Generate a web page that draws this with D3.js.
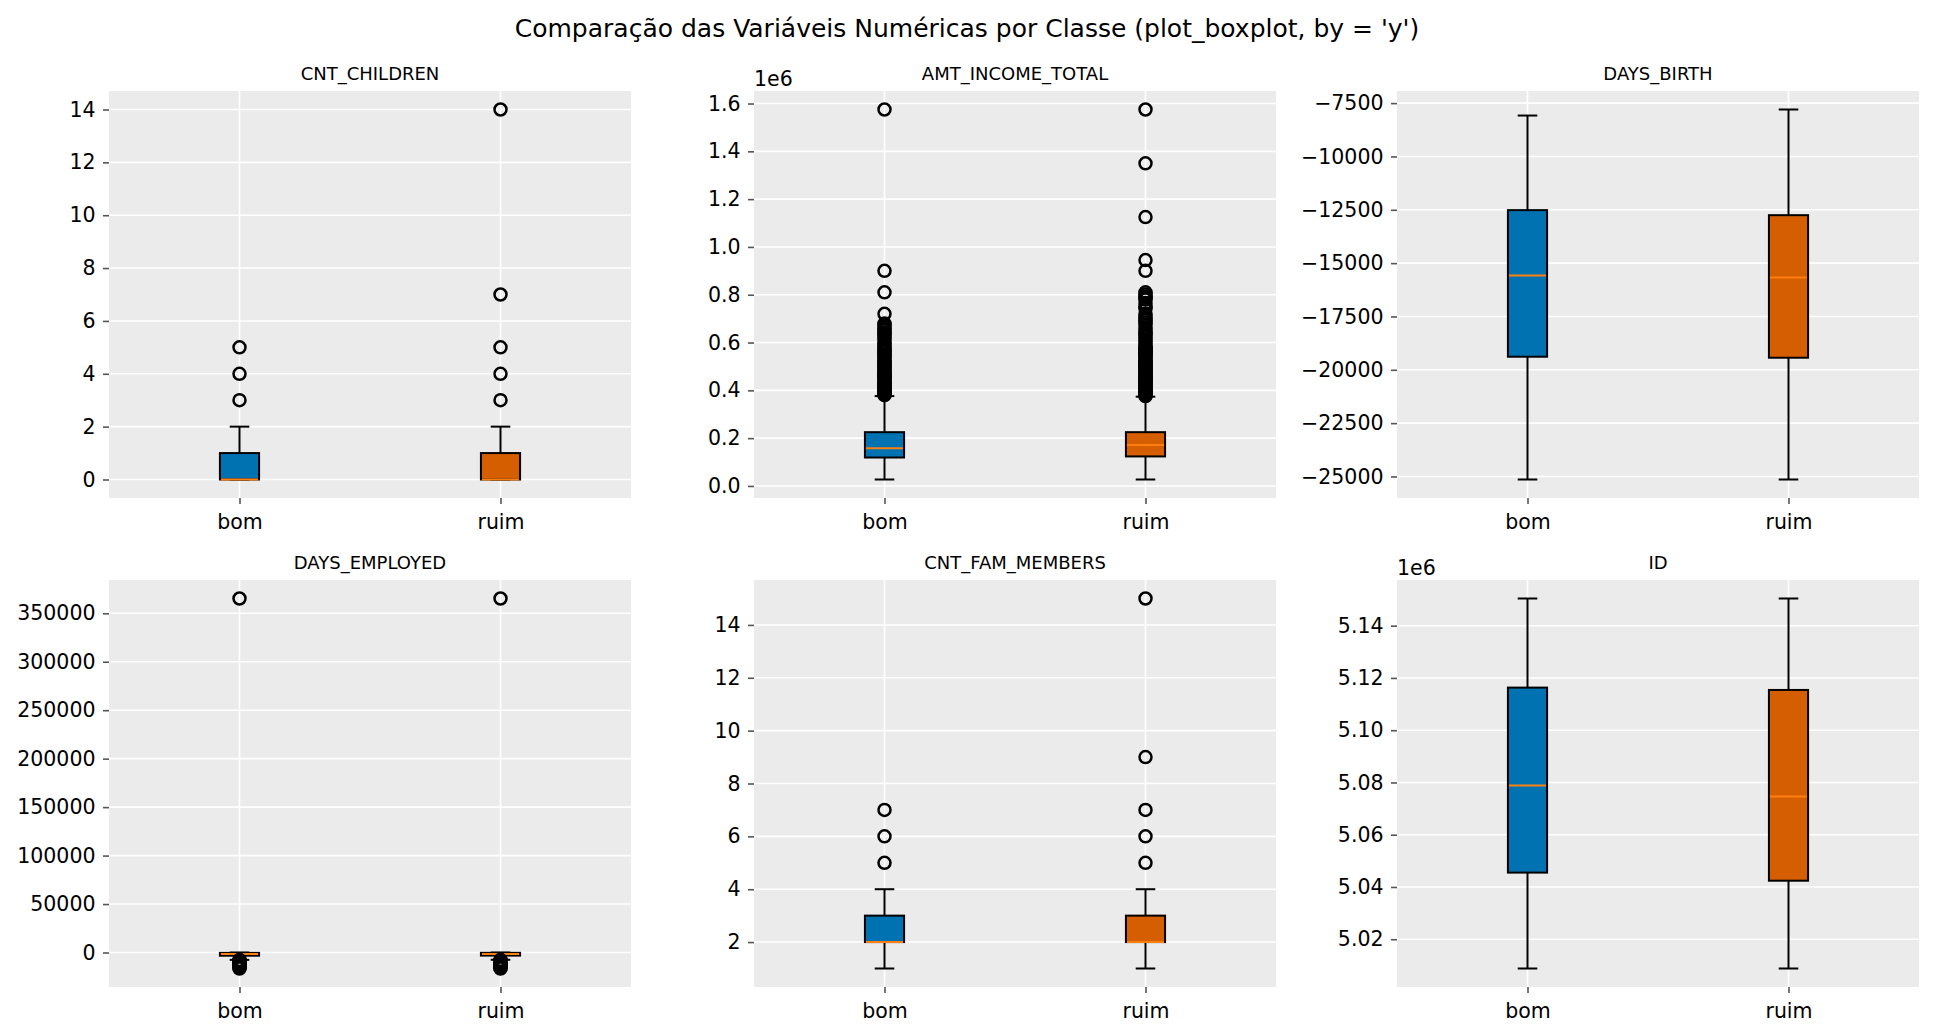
<!DOCTYPE html>
<html>
<head>
<meta charset="utf-8">
<script src="https://cdn.jsdelivr.net/npm/d3@7"></script>
<style>
  body { margin: 0; background: #fff; }
  svg { display: block; font-family: "DejaVu Sans", sans-serif; }
</style>
</head>
<body>
<svg id="chart" width="1935" height="1036"></svg>
<script>
// classes on the x axis
var classes = ["bom", "ruim"];
var variables = ["CNT_CHILDREN", "AMT_INCOME_TOTAL", "DAYS_BIRTH",
                 "DAYS_EMPLOYED", "CNT_FAM_MEMBERS", "ID"];

// box stats per class: [whisker low, q1, median, q3, whisker high]
var cntChildrenStats = [[0, 0, 0, 1, 2], [0, 0, 0, 1, 2]];
var cntChildrenFliers = [[3, 4, 5], [3, 4, 5, 7, 14]];
var cntChildrenTicks = [0, 2, 4, 6, 8, 10, 12, 14];

var amtIncomeStats = [[27000, 119000, 157500, 225000, 376000],
                      [27000, 123500, 171000, 225000, 373500]];
var amtIncomeFliers = [
  [380000, 382500, 387000, 391500, 396000, 400500, 405000, 409500, 414000, 418500,
   423000, 427500, 432000, 436500, 441000, 450000, 454500, 459000, 463500, 468000,
   472500, 477000, 481500, 486000, 495000, 499500, 504000, 513000, 517500, 522000,
   531000, 540000, 544500, 549000, 558000, 562500, 567000, 576000, 585000, 594000,
   598500, 612000, 621000, 630000, 639000, 643500, 652500, 657000, 666000, 675000,
   679500, 720000, 810000, 900000, 1575000],
  [376000, 378000, 382500, 387000, 391500, 396000, 400500, 405000, 409500, 414000,
   418500, 423000, 427500, 432000, 436500, 441000, 445500, 450000, 454500, 459000,
   463500, 468000, 472500, 477000, 481500, 486000, 490500, 495000, 499500, 504000,
   508500, 513000, 517500, 522000, 526500, 531000, 540000, 544500, 549000, 553500,
   558000, 562500, 567000, 571500, 576000, 580500, 585000, 594000, 603000, 612000,
   621000, 630000, 639000, 643500, 652500, 661500, 675000, 684000, 693000, 702000,
   711000, 720000, 742500, 750000, 765000, 780000, 787500, 792000, 801000, 810000,
   900000, 945000, 1125000, 1350000, 1575000]
];
var amtIncomeTicks = [0, 200000, 400000, 600000, 800000, 1000000, 1200000, 1400000, 1600000];

var daysBirthStats = [[-25142, -19387, -15582, -12516, -8082],
                      [-25142, -19434, -15676, -12752, -7799]];
var daysBirthFliers = [[], []];
var daysBirthTicks = [-7500, -10000, -12500, -15000, -17500, -20000, -22500, -25000];

var daysEmployedStats = [[-7600, -3300, -1600, -400, -17],
                         [-7500, -3200, -1500, -350, -12]];
var daysEmployedFliers = [
  [-7700, -8100, -8500, -8900, -9300, -9800, -10300, -10900, -11500, -12100,
   -12800, -13500, -14300, -15000, -15800, -16500, 365243],
  [-7600, -8000, -8600, -9100, -9700, -10400, -11000, -11800, -12600, -13400,
   -14200, -15100, -15900, -16500, 365243]
];
var daysEmployedTicks = [0, 50000, 100000, 150000, 200000, 250000, 300000, 350000];

var cntFamStats = [[1, 2, 2, 3, 4], [1, 2, 2, 3, 4]];
var cntFamFliers = [[5, 6, 7], [5, 6, 7, 9, 15]];
var cntFamTicks = [2, 4, 6, 8, 10, 12, 14];

var idStats = [[5008800, 5045500, 5078800, 5116300, 5150400],
               [5008800, 5042400, 5074600, 5115400, 5150400]];
var idFliers = [[], []];
var idTicks = [5020000, 5040000, 5060000, 5080000, 5100000, 5120000, 5140000];

var panelStats = [cntChildrenStats, amtIncomeStats, daysBirthStats,
                  daysEmployedStats, cntFamStats, idStats];
var panelFliers = [cntChildrenFliers, amtIncomeFliers, daysBirthFliers,
                   daysEmployedFliers, cntFamFliers, idFliers];
var panelTicks = [cntChildrenTicks, amtIncomeTicks, daysBirthTicks,
                  daysEmployedTicks, cntFamTicks, idTicks];
var panelOffset = [0, 6, 0, 0, 0, 6];   // exponent of the "1e6" axis offset
var panelDecimals = [0, 1, 0, 0, 0, 2];

var boxColors = ["#0072B2", "#D55E00"];
var medianColor = "#ff7f0e";

var svg = d3.select("#chart");
var colX = [109, 754, 1397], rowY = [91, 580];
var pw = 522, ph = 407;
var boxW = 0.15;

svg.append("text")
    .attr("x", 967)
    .attr("y", 37)
    .attr("text-anchor", "middle")
    .attr("font-size", 25)
    .attr("fill", "#000")
    .text("Comparação das Variáveis Numéricas por Classe (plot_boxplot, by = 'y')");

variables.forEach(function(name, i) {
  var g = svg.append("g")
      .attr("transform", "translate(" + colX[i % 3] + "," + rowY[Math.floor(i / 3)] + ")");

  var stats = panelStats[i], fliers = panelFliers[i];
  var all = d3.merge(stats.concat(fliers));
  var ext = d3.extent(all), pad = (ext[1] - ext[0]) * 0.05;

  var x = d3.scaleLinear().domain([0.5, 2.5]).range([0, pw]);
  var y = d3.scaleLinear().domain([ext[0] - pad, ext[1] + pad]).range([ph, 0]);

  var k = Math.pow(10, panelOffset[i]);
  var fmt = panelDecimals[i] > 0 ? d3.format("." + panelDecimals[i] + "f") : d3.format("d");

  g.append("rect")
      .attr("width", pw).attr("height", ph)
      .attr("fill", "#EBEBEB");

  // grid
  g.selectAll(".hgrid").data(panelTicks[i]).enter().append("line")
      .attr("x1", 0).attr("x2", pw)
      .attr("y1", function(d) { return y(d); })
      .attr("y2", function(d) { return y(d); })
      .attr("stroke", "#fff").attr("stroke-width", 1.6);
  g.selectAll(".vgrid").data([1, 2]).enter().append("line")
      .attr("x1", function(d) { return x(d); })
      .attr("x2", function(d) { return x(d); })
      .attr("y1", 0).attr("y2", ph)
      .attr("stroke", "#fff").attr("stroke-width", 1.6);

  // axes
  var yAxis = d3.axisLeft(y)
      .tickValues(panelTicks[i])
      .tickSize(6)
      .tickPadding(7.5)
      .tickFormat(function(d) { return fmt(d / k); });
  var xAxis = d3.axisBottom(x)
      .tickValues([1, 2])
      .tickSize(6)
      .tickPadding(10)
      .tickFormat(function(d) { return classes[d - 1]; });

  var ya = g.append("g").call(yAxis);
  var xa = g.append("g").attr("transform", "translate(0," + ph + ")").call(xAxis);
  [ya, xa].forEach(function(a) {
    a.select(".domain").remove();
    a.selectAll(".tick line").attr("stroke", "#555").attr("stroke-width", 1.6);
    a.selectAll(".tick text")
        .attr("fill", "#000")
        .attr("font-size", 20.5)
        .attr("font-family", "DejaVu Sans");
  });

  if (panelOffset[i]) {
    g.append("text")
        .attr("x", 0).attr("y", -5)
        .attr("font-size", 20.5)
        .attr("fill", "#000")
        .text("1e" + panelOffset[i]);
  }

  g.append("text")
      .attr("x", pw / 2).attr("y", -11)
      .attr("text-anchor", "middle")
      .attr("font-size", 18)
      .attr("fill", "#000")
      .text(name);

  // boxes
  stats.forEach(function(s, j) {
    var cx = x(j + 1);
    var b = g.append("g");
    b.append("line")
        .attr("x1", cx).attr("x2", cx)
        .attr("y1", y(s[0])).attr("y2", y(s[1]))
        .attr("stroke", "#000").attr("stroke-width", 2);
    b.append("line")
        .attr("x1", cx).attr("x2", cx)
        .attr("y1", y(s[3])).attr("y2", y(s[4]))
        .attr("stroke", "#000").attr("stroke-width", 2);
    b.selectAll(".cap").data([s[0], s[4]]).enter().append("line")
        .attr("x1", x(j + 1 - boxW / 4)).attr("x2", x(j + 1 + boxW / 4))
        .attr("y1", function(d) { return y(d); })
        .attr("y2", function(d) { return y(d); })
        .attr("stroke", "#000").attr("stroke-width", 2);
    b.append("rect")
        .attr("x", x(j + 1 - boxW / 2))
        .attr("width", x(j + 1 + boxW / 2) - x(j + 1 - boxW / 2))
        .attr("y", y(s[3]))
        .attr("height", Math.max(0, y(s[1]) - y(s[3])))
        .attr("fill", boxColors[j])
        .attr("stroke", "#000").attr("stroke-width", 2);
    b.append("line")
        .attr("x1", x(j + 1 - boxW / 2) + 1).attr("x2", x(j + 1 + boxW / 2) - 1)
        .attr("y1", y(s[2])).attr("y2", y(s[2]))
        .attr("stroke", medianColor).attr("stroke-width", 2);
    b.selectAll("circle").data(fliers[j]).enter().append("circle")
        .attr("cx", cx)
        .attr("cy", function(d) { return y(d); })
        .attr("r", 6)
        .attr("fill", "none")
        .attr("stroke", "#000").attr("stroke-width", 2.5);
  });
});
</script>
</body>
</html>
